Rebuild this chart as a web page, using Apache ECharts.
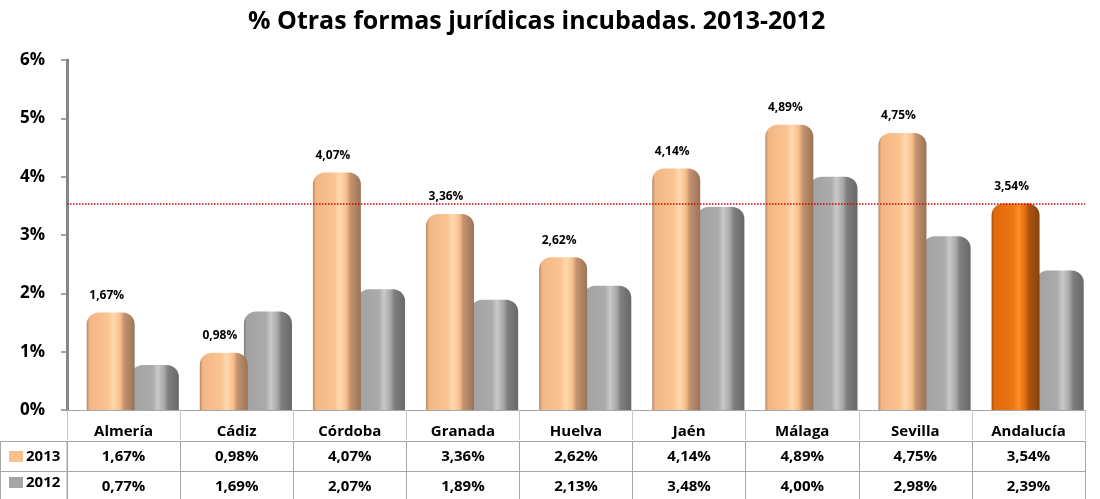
<!doctype html>
<html lang="es">
<head>
    <meta charset="utf-8" />
    <title>% Otras formas jurídicas incubadas</title>
    <script src="https://cdn.jsdelivr.net/npm/echarts@6/dist/echarts.min.js"></script>
    <style>
        html, body { margin: 0; padding: 0; background: #fff; }
        #chart { width: 1100px; height: 499px; }
    </style>
</head>
<body>
<div id="chart"></div>
<script>
    var provincias = ['Almería', 'Cádiz', 'Córdoba', 'Granada', 'Huelva', 'Jaén', 'Málaga', 'Sevilla', 'Andalucía'];
    var valores2013 = [1.67, 0.98, 4.07, 3.36, 2.62, 4.14, 4.89, 4.75, 3.54];
    var valores2012 = [0.77, 1.69, 2.07, 1.89, 2.13, 3.48, 4.00, 2.98, 2.39];
    var mediaAndalucia = 3.54;
    var ticksY = [0, 1, 2, 3, 4, 5, 6];

    var FONT = '"Open Sans"';
    var BORDE = '#a6a6a6';

    function pct(v) {
        return v.toFixed(2).replace('.', ',') + '%';
    }

    // gradiente horizontal para imitar el cilindro 3D de Excel
    function cilindro(stops) {
        return new echarts.graphic.LinearGradient(0, 0, 1, 0, stops.map(function (c) {
            return { offset: c[0], color: c[1] };
        }));
    }
    var colorMelocoton = cilindro([[0, '#b48764'], [0.06, '#f3b683'], [0.45, '#fac593'], [0.56, '#ffdab0'],
        [0.7, '#f7be8c'], [0.78, '#c49270'], [1, '#9a7457']]);
    var colorNaranja = cilindro([[0, '#a44f0a'], [0.06, '#e06a0a'], [0.45, '#ed7612'], [0.56, '#ff8d2a'],
        [0.7, '#e46d0c'], [0.78, '#a95412'], [1, '#8a4406']]);
    var colorGris = cilindro([[0, '#7c7c7c'], [0.06, '#a2a2a2'], [0.45, '#ababab'], [0.56, '#c9c9c9'],
        [0.7, '#a6a6a6'], [0.78, '#7e7e7e'], [1, '#686868']]);

    var datos2013 = valores2013.map(function (v, i) {
        return {
            value: v,
            itemStyle: { color: provincias[i] === 'Andalucía' ? colorNaranja : colorMelocoton }
        };
    });

    var chart = echarts.init(document.getElementById('chart'));

    var ejeTabla = function (labels, offset, margin, tickColor) {
        return {
            type: 'category',
            data: labels,
            position: 'bottom',
            offset: offset,
            axisLine: { show: true, lineStyle: { color: BORDE, width: 1 } },
            axisTick: { show: true, inside: false, length: 30, interval: 0, lineStyle: { color: tickColor, width: 1 } },
            axisLabel: {
                interval: 0, margin: margin,
                color: '#000', fontFamily: FONT, fontWeight: 'bold', fontSize: 15
            },
            splitLine: { show: false }
        };
    };

    var option = {
        animation: false,
        backgroundColor: '#fff',
        title: {
            text: '% Otras formas jurídicas incubadas. 2013-2012',
            left: 243,
            top: 4,
            textStyle: { fontFamily: FONT, fontWeight: 'bold', fontSize: 25, color: '#000' }
        },
        legend: {
            orient: 'vertical',
            left: 4,
            top: 444,
            itemGap: 11,
            itemWidth: 14,
            itemHeight: 11,
            icon: 'rect',
            selectedMode: false,
            data: [
                { name: '2013', itemStyle: { color: '#f9c08e' } },
                { name: '2012', itemStyle: { color: '#a6a6a6' } }
            ],
            textStyle: { fontFamily: FONT, fontWeight: 'bold', fontSize: 15, color: '#000', padding: [0, 0, 0, -2] }
        },
        grid: { left: 67, right: 15, top: 60, bottom: 89 },
        xAxis: [
            ejeTabla(provincias, 0, 14, '#c8c8c8'),
            ejeTabla(valores2013.map(pct), 31, 8, BORDE),
            ejeTabla(valores2012.map(pct), 61, 8, BORDE)
        ],
        yAxis: {
            type: 'value',
            min: ticksY[0],
            max: ticksY[ticksY.length - 1],
            interval: 1,
            axisLine: { show: true, lineStyle: { color: '#868686', width: 3 } },
            axisTick: { show: true, length: 6, lineStyle: { color: '#868686', width: 1.5 } },
            axisLabel: {
                margin: 22,
                color: '#000', fontFamily: FONT, fontWeight: 'bold', fontSize: 17,
                formatter: '{value}%'
            },
            splitLine: { show: false }
        },
        series: [
            {
                // hueco invisible: desplaza las barras a la derecha como la perspectiva 3D
                name: 'hueco',
                type: 'bar',
                xAxisIndex: 0,
                barWidth: 20,
                barGap: '-8%',
                data: [],
                silent: true
            },
            {
                name: '2013',
                type: 'bar',
                xAxisIndex: 0,
                barWidth: 48,
                barGap: '-8%',
                data: datos2013,
                itemStyle: { color: colorMelocoton, borderRadius: [12, 12, 0, 0] },
                label: {
                    show: true,
                    position: 'top',
                    distance: 11,
                    offset: [-4, 0],
                    color: '#000', fontFamily: FONT, fontWeight: 'bold', fontSize: 12,
                    formatter: function (p) { return pct(p.value); }
                },
                markLine: {
                    silent: true,
                    symbol: 'none',
                    label: { show: false },
                    lineStyle: { color: '#d40000', type: 'dotted', width: 1.5 },
                    data: [{ yAxis: mediaAndalucia }]
                },
                z: 3
            },
            {
                name: '2012',
                type: 'bar',
                xAxisIndex: 0,
                barWidth: 48,
                barGap: '-8%',
                data: valores2012,
                itemStyle: { color: colorGris, borderRadius: [12, 12, 0, 0] },
                z: 2
            }
        ],
        graphic: [
            // columna izquierda de la tabla de datos (leyenda)
            {
                type: 'rect',
                shape: { x: 0.5, y: 441.5, width: 66.5, height: 60 },
                style: { fill: 'none', stroke: BORDE, lineWidth: 1 },
                silent: true
            },
            {
                type: 'line',
                shape: { x1: 0, y1: 471.5, x2: 67, y2: 471.5 },
                style: { stroke: BORDE, lineWidth: 1 },
                silent: true
            }
        ]
    };

    chart.setOption(option);
</script>
</body>
</html>
